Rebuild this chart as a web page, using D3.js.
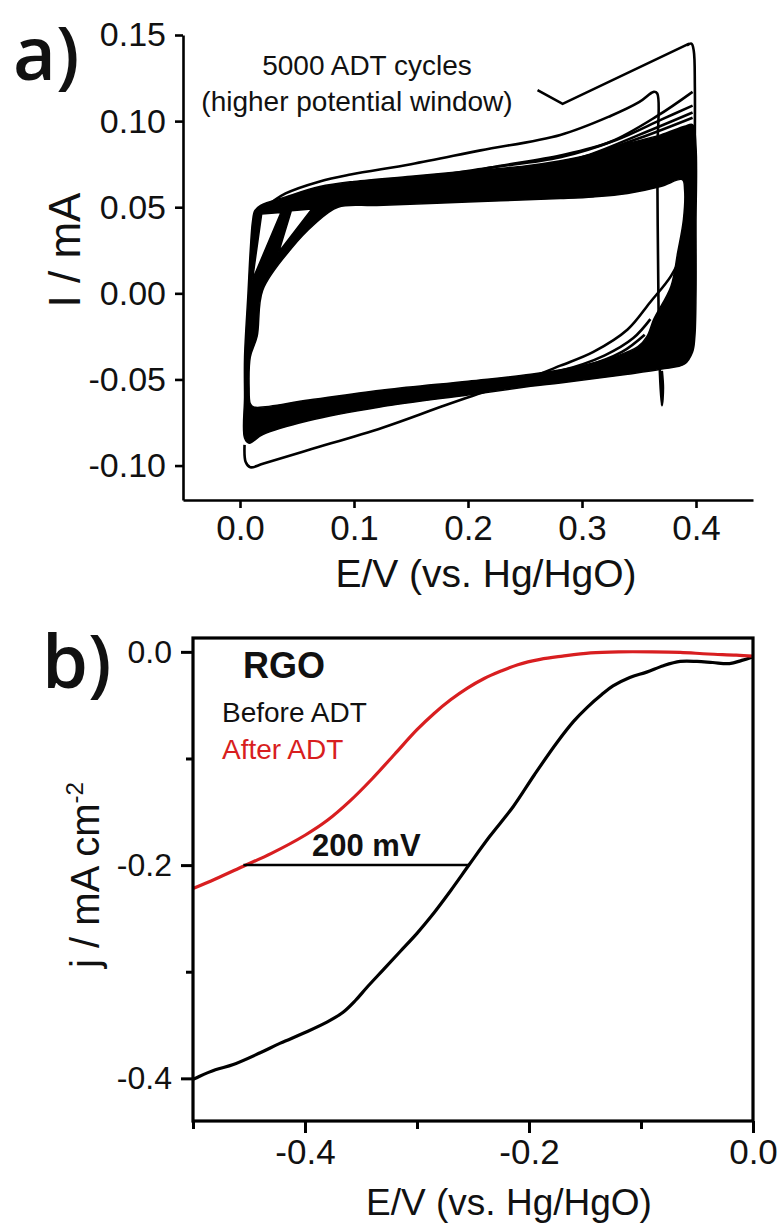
<!DOCTYPE html>
<html>
<head>
<meta charset="utf-8">
<script src="https://cdn.jsdelivr.net/npm/d3@7"></script>
<style>
  body { margin: 0; background: #fff; }
  text { font-family: "Liberation Sans", Arial, sans-serif; fill: #111; }
  .panel-label { font-family: "Open Sans", sans-serif; font-weight: 600; }
</style>
</head>
<body>
<div id="chart"></div>
<script>

// 1. Data  (E in V vs Hg/HgO, I in mA or j in mA cm-2)

// panel a: the dense bundle of ADT cycles, read as a ring (outer edge, inner edge, small gaps)
const cvBandOuter = [
  [0.018, 0.051], [0.04, 0.056], [0.07, 0.062], [0.10, 0.065], [0.15, 0.068],
  [0.20, 0.071], [0.25, 0.074], [0.281, 0.077], [0.31, 0.081], [0.34, 0.087],
  [0.369, 0.092], [0.39, 0.097], [0.397, 0.098], [0.400, 0.085], [0.400, 0.04],
  [0.400, 0.0], [0.399, -0.025], [0.397, -0.034], [0.39, -0.041], [0.37, -0.044],
  [0.34, -0.047], [0.281, -0.052], [0.255, -0.054], [0.20, -0.059], [0.123, -0.066],
  [0.06, -0.074], [0.02, -0.082], [0.008, -0.087], [0.004, -0.084], [0.004, -0.06],
  [0.004, -0.037], [0.007, 0.0], [0.009, 0.025], [0.011, 0.042], [0.013, 0.048]
]
const cvBandInner = [
  [0.388, 0.066], [0.369, 0.062], [0.34, 0.058], [0.31, 0.056], [0.281, 0.055],
  [0.20, 0.053], [0.12, 0.051], [0.086, 0.050], [0.065, 0.040], [0.045, 0.026],
  [0.02, 0.002], [0.015, -0.025], [0.009, -0.037], [0.008, -0.055], [0.009, -0.064],
  [0.012, -0.066], [0.06, -0.062], [0.127, -0.056], [0.20, -0.051], [0.255, -0.047],
  [0.30, -0.042], [0.328, -0.037], [0.349, -0.031], [0.357, -0.025], [0.363, -0.015],
  [0.378, 0.004], [0.384, 0.024], [0.389, 0.043], [0.390, 0.060]
]
const cvGap1 = [[0.019, 0.046], [0.036, 0.047], [0.011, 0.008]]
const cvGap2 = [[0.045, 0.048], [0.063, 0.049], [0.034, 0.024]]

// single cycles that stand out of the bundle
const cvLoopA = [
  [0.392, 0.144], [0.396, 0.145], [0.398, 0.141], [0.399, 0.12], [0.399, 0.09],
  [0.399, 0.06], [0.397, 0.04], [0.39, 0.026], [0.378, 0.010], [0.36, -0.005],
  [0.34, -0.021], [0.31, -0.034], [0.281, -0.042], [0.25, -0.050], [0.22, -0.056],
  [0.18, -0.065], [0.125, -0.078], [0.06, -0.091], [0.02, -0.099], [0.009, -0.101],
  [0.005, -0.098], [0.004, -0.088]
]
const cvLoopB = [
  [0.022, 0.050], [0.04, 0.058], [0.07, 0.065], [0.097, 0.069], [0.15, 0.075],
  [0.211, 0.083], [0.281, 0.092], [0.325, 0.103], [0.35, 0.111], [0.363, 0.117],
  [0.366, 0.116], [0.366, 0.08], [0.367, 0.0], [0.368, -0.04], [0.370, -0.065],
  [0.371, -0.055], [0.370, -0.045]
]
const cvUpperStrays = [
  [[0.17, 0.066], [0.22, 0.073], [0.281, 0.080], [0.325, 0.088], [0.366, 0.103], [0.397, 0.117]],
  [[0.12, 0.062], [0.17, 0.068], [0.22, 0.073], [0.281, 0.079], [0.33, 0.089], [0.37, 0.101], [0.397, 0.109]],
  [[0.24, 0.070], [0.30, 0.079], [0.35, 0.092], [0.397, 0.105]],
  [[0.28, 0.074], [0.35, 0.090], [0.397, 0.102]]
]
const cvLowerStrays = [
  [[0.22, -0.052], [0.281, -0.045], [0.32, -0.036], [0.345, -0.026], [0.36, -0.015]],
  [[0.25, -0.050], [0.30, -0.043], [0.335, -0.034], [0.355, -0.024]]
]
const cvPointer = [[0.261, 0.118], [0.283, 0.110], [0.394, 0.145]]

const xTicksA = [0.0, 0.1, 0.2, 0.3, 0.4]
const xTickLabelsA = ["0.0", "0.1", "0.2", "0.3", "0.4"]
const yTicksA = [-0.10, -0.05, 0.00, 0.05, 0.10, 0.15]
const yTickLabelsA = ["-0.10", "-0.05", "0.00", "0.05", "0.10", "0.15"]

// panel b: LSV of RGO before / after ADT
const rrdeBefore = [
  [-0.5, -0.401], [-0.494, -0.398], [-0.48, -0.392], [-0.464, -0.387], [-0.44, -0.376],
  [-0.422, -0.367], [-0.40, -0.357], [-0.38, -0.347], [-0.366, -0.338], [-0.355, -0.327],
  [-0.345, -0.315], [-0.33, -0.298], [-0.315, -0.281], [-0.30, -0.264], [-0.288, -0.249],
  [-0.27, -0.224], [-0.253, -0.199], [-0.235, -0.173], [-0.214, -0.145], [-0.195, -0.115],
  [-0.175, -0.085], [-0.16, -0.065], [-0.148, -0.052], [-0.135, -0.040], [-0.125, -0.032],
  [-0.11, -0.024], [-0.095, -0.019], [-0.08, -0.013], [-0.065, -0.009], [-0.05, -0.009],
  [-0.036, -0.010], [-0.021, -0.011], [-0.01, -0.008], [-0.001, -0.005]
]
const rrdeAfter = [
  [-0.5, -0.222], [-0.48, -0.213], [-0.455, -0.201], [-0.43, -0.189], [-0.40, -0.172],
  [-0.38, -0.158], [-0.36, -0.140], [-0.34, -0.119], [-0.32, -0.096], [-0.30, -0.073],
  [-0.285, -0.058], [-0.27, -0.045], [-0.255, -0.034], [-0.24, -0.025], [-0.225, -0.018],
  [-0.21, -0.012], [-0.19, -0.007], [-0.17, -0.004], [-0.145, -0.001], [-0.12, 0.0],
  [-0.09, 0.0], [-0.065, -0.0005], [-0.04, -0.002], [-0.015, -0.003], [0.0, -0.004]
]
const shiftLine = [[-0.455, -0.2], [-0.253, -0.2]]

const xTicksB = [-0.4, -0.2, 0.0]
const xTickLabelsB = ["-0.4", "-0.2", "0.0"]
const xMinorB = [-0.5, -0.3, -0.1]
const yTicksB = [-0.4, -0.2, 0.0]
const yTickLabelsB = ["-0.4", "-0.2", "0.0"]
const yMinorB = [-0.3, -0.1]

const red = "#d81e20"

// 2. Dimensions / scales

const width = 784, height = 1226

const xA = d3.scaleLinear().domain([-0.05, 0.45]).range([183, 753])
const yA = d3.scaleLinear().domain([-0.12, 0.15]).range([500, 35])
const xB = d3.scaleLinear().domain([-0.5, 0]).range([193, 753])
const yB = d3.scaleLinear().domain([-0.44, 0.013]).range([1121, 638])

const svg = d3.select("#chart").append("svg")
    .attr("width", width)
    .attr("height", height)

// 3. Panel a

const lineA = d3.line().x(d => xA(d[0])).y(d => yA(d[1])).curve(d3.curveCatmullRom.alpha(0.5))
const ringA = d3.line().x(d => xA(d[0])).y(d => yA(d[1])).curve(d3.curveCatmullRomClosed.alpha(0.5))
const polyA = d3.line().x(d => xA(d[0])).y(d => yA(d[1])).curve(d3.curveLinearClosed)

const panelA = svg.append("g")

panelA.append("path")
    .attr("d", ringA(cvBandOuter) + ringA(cvBandInner) + polyA(cvGap1) + polyA(cvGap2))
    .attr("fill", "#000")
    .attr("fill-rule", "evenodd")
    .attr("stroke", "#000")
    .attr("stroke-width", 1.5)

panelA.selectAll(".cycle")
  .data([cvLoopA, cvLoopB, ...cvUpperStrays, ...cvLowerStrays])
  .enter().append("path")
    .attr("class", "cycle")
    .attr("d", lineA)
    .attr("fill", "none")
    .attr("stroke", "#000")
    .attr("stroke-width", 2.6)
    .attr("stroke-linejoin", "round")

panelA.append("path")
    .attr("d", d3.line().x(d => xA(d[0])).y(d => yA(d[1]))(cvPointer))
    .attr("fill", "none")
    .attr("stroke", "#000")
    .attr("stroke-width", 2.6)

const axisA_y = panelA.append("g")
    .attr("transform", `translate(${xA.range()[0]},0)`)
    .call(d3.axisLeft(yA).tickValues(yTicksA).tickFormat((d, i) => yTickLabelsA[i])
      .tickSize(8).tickSizeOuter(0).tickPadding(9))
const axisA_x = panelA.append("g")
    .attr("transform", `translate(0,${yA.range()[0]})`)
    .call(d3.axisBottom(xA).tickValues(xTicksA).tickFormat((d, i) => xTickLabelsA[i])
      .tickSize(8).tickSizeOuter(0).tickPadding(7))

axisA_y.selectAll("text").style("font-size", "34px")
axisA_x.selectAll("text").style("font-size", "35px")
panelA.selectAll(".domain, .tick line").attr("stroke", "#000").attr("stroke-width", 2.6)
panelA.selectAll(".tick text").attr("fill", "#111")

panelA.append("text")
    .attr("x", 486).attr("y", 587)
    .attr("text-anchor", "middle")
    .style("font-size", "39px")
    .text("E/V (vs. Hg/HgO)")

panelA.append("text")
    .attr("transform", "translate(80,250) rotate(-90)")
    .attr("text-anchor", "middle")
    .style("font-size", "44px")
    .text("I / mA")

panelA.append("text")
    .attr("x", 367).attr("y", 75)
    .attr("text-anchor", "middle")
    .style("font-size", "28px")
    .text("5000 ADT cycles")
panelA.append("text")
    .attr("x", 357).attr("y", 111)
    .attr("text-anchor", "middle")
    .style("font-size", "28px")
    .text("(higher potential window)")

panelA.append("text")
    .attr("class", "panel-label")
    .attr("x", 13).attr("y", 80)
    .style("font-size", "74px")
    .text("a)")

// 4. Panel b

const lineB = d3.line().x(d => xB(d[0])).y(d => yB(d[1])).curve(d3.curveCatmullRom.alpha(0.5))

const panelB = svg.append("g")

panelB.append("path")
    .attr("d", lineB(rrdeBefore))
    .attr("fill", "none")
    .attr("stroke", "#000")
    .attr("stroke-width", 3.2)

panelB.append("path")
    .attr("d", lineB(rrdeAfter))
    .attr("fill", "none")
    .attr("stroke", red)
    .attr("stroke-width", 3.2)

panelB.append("path")
    .attr("d", d3.line().x(d => xB(d[0])).y(d => yB(d[1]))(shiftLine))
    .attr("stroke", "#000")
    .attr("stroke-width", 2.5)

// frame
panelB.append("rect")
    .attr("x", xB.range()[0]).attr("y", yB.range()[1])
    .attr("width", xB.range()[1] - xB.range()[0])
    .attr("height", yB.range()[0] - yB.range()[1])
    .attr("fill", "none")
    .attr("stroke", "#000")
    .attr("stroke-width", 3.2)

const axisB_y = panelB.append("g")
    .attr("transform", `translate(${xB.range()[0]},0)`)
    .call(d3.axisLeft(yB).tickValues(yTicksB).tickFormat((d, i) => yTickLabelsB[i])
      .tickSize(12).tickSizeOuter(0).tickPadding(9))
panelB.append("g")
    .attr("transform", `translate(${xB.range()[0]},0)`)
    .call(d3.axisLeft(yB).tickValues(yMinorB).tickFormat("").tickSize(7).tickSizeOuter(0))
const axisB_x = panelB.append("g")
    .attr("transform", `translate(0,${yB.range()[0]})`)
    .call(d3.axisBottom(xB).tickValues(xTicksB).tickFormat((d, i) => xTickLabelsB[i])
      .tickSize(12).tickSizeOuter(0).tickPadding(6))
panelB.append("g")
    .attr("transform", `translate(0,${yB.range()[0]})`)
    .call(d3.axisBottom(xB).tickValues(xMinorB).tickFormat("").tickSize(8).tickSizeOuter(0))

axisB_y.selectAll("text").style("font-size", "32px")
axisB_x.selectAll("text").style("font-size", "35px")
panelB.selectAll(".domain").attr("stroke", "none")
panelB.selectAll(".tick line").attr("stroke", "#000").attr("stroke-width", 3)

panelB.append("text")
    .attr("x", 509).attr("y", 1215)
    .attr("text-anchor", "middle")
    .style("font-size", "37px")
    .text("E/V (vs. Hg/HgO)")

const yTitleB = panelB.append("text")
    .attr("transform", "translate(99,875) rotate(-90)")
    .attr("text-anchor", "middle")
    .style("font-size", "40px")
yTitleB.append("tspan").text("j / mA cm")
yTitleB.append("tspan").attr("dy", -16).style("font-size", "24px").text("-2")

panelB.append("text")
    .attr("x", 243).attr("y", 678)
    .style("font-size", "36px").style("font-weight", "bold")
    .text("RGO")
panelB.append("text")
    .attr("x", 222).attr("y", 722)
    .style("font-size", "28px")
    .text("Before ADT")
panelB.append("text")
    .attr("x", 222).attr("y", 759)
    .style("font-size", "28px")
    .style("fill", red)
    .text("After ADT")
panelB.append("text")
    .attr("x", 312).attr("y", 856)
    .style("font-size", "31px").style("font-weight", "bold")
    .text("200 mV")

panelB.append("text")
    .attr("class", "panel-label")
    .attr("x", 42).attr("y", 688)
    .style("font-size", "74px")
    .text("b)")

</script>
</body>
</html>
